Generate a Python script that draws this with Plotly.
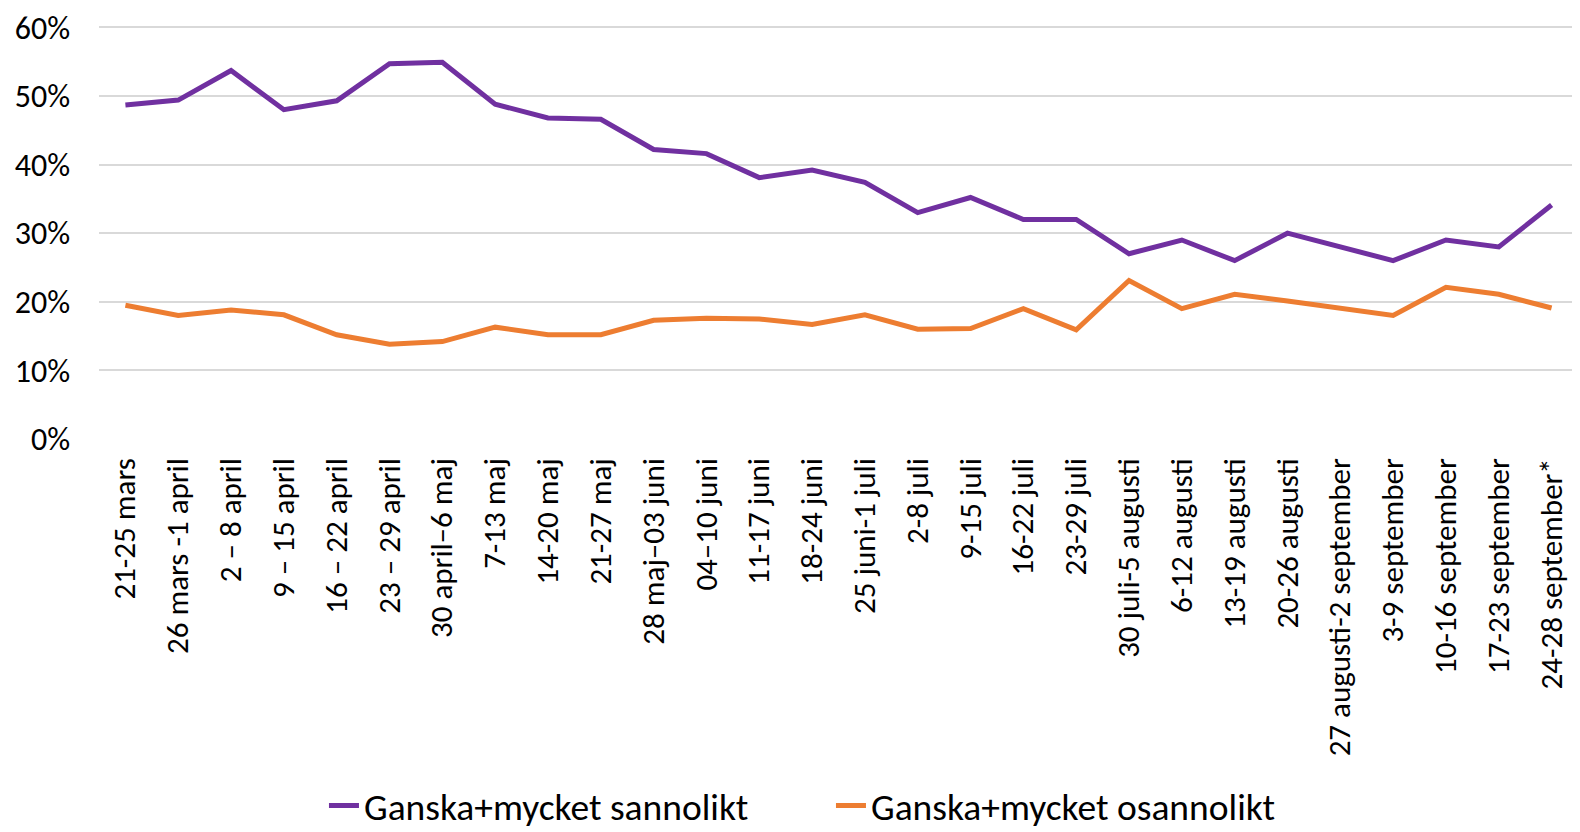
import plotly.graph_objects as go

categories = [
    "21-25 mars", "26 mars -1 april", "2 – 8 april", "9 – 15 april",
    "16 – 22 april", "23 – 29 april", "30 april–6 maj", "7-13 maj",
    "14-20 maj", "21-27 maj", "28 maj–03 juni", "04–10 juni",
    "11-17 juni", "18-24 juni", "25 juni-1 juli", "2-8 juli",
    "9-15 juli", "16-22 juli", "23-29 juli", "30 juli-5 augusti",
    "6-12 augusti", "13-19 augusti", "20-26 augusti", "27 augusti-2 september",
    "3-9 september", "10-16 september", "17-23 september", "24-28 september*",
]

sannolikt = [
    0.487, 0.494, 0.537, 0.480, 0.493, 0.547, 0.549, 0.488,
    0.468, 0.466, 0.422, 0.416, 0.381, 0.392, 0.374, 0.330,
    0.352, 0.320, 0.320, 0.270, 0.290, 0.260, 0.300, 0.280,
    0.260, 0.290, 0.280, 0.341,
]

osannolikt = [
    0.195, 0.180, 0.188, 0.181, 0.152, 0.138, 0.142, 0.163,
    0.152, 0.152, 0.173, 0.176, 0.175, 0.167, 0.181, 0.160,
    0.161, 0.190, 0.159, 0.231, 0.190, 0.211, 0.201, 0.191,
    0.180, 0.221, 0.211, 0.191,
]

y_ticks = [0, 0.1, 0.2, 0.3, 0.4, 0.5, 0.6]

FONT = "Calibri, Carlito, Lato, sans-serif"

fig = go.Figure()
fig.add_trace(go.Scatter(
    x=categories, y=sannolikt, mode="lines", name="Ganska+mycket sannolikt",
    line=dict(color="#7030A0", width=5, shape="linear"),
))
fig.add_trace(go.Scatter(
    x=categories, y=osannolikt, mode="lines", name="Ganska+mycket osannolikt",
    line=dict(color="#ED7D31", width=5, shape="linear"),
))

# page body has an 8px default margin, so the figure is 1572x824
fig.update_layout(
    width=1572, height=824,
    paper_bgcolor="white", plot_bgcolor="white",
    margin=dict(l=91, r=2, t=15.6, b=393, autoexpand=False),
    font=dict(family=FONT, size=30, color="#000000"),
    showlegend=True,
    legend=dict(
        orientation="h", xref="container", x=0.201, xanchor="left",
        yref="container", y=0.032, yanchor="middle",
        font=dict(family=FONT, size=37.5, color="#000000"),
        entrywidth=462, entrywidthmode="pixels", tracegroupgap=0,
        bgcolor="rgba(0,0,0,0)",
    ),
    xaxis=dict(
        type="category", range=[-0.5, 27.5], tickangle=-90,
        showgrid=False, zeroline=False, automargin=False,
        showline=False, ticks="", tickfont=dict(family=FONT, size=31),
        ticklabelstandoff=12,
    ),
    yaxis=dict(
        range=[0, 0.6049], tickvals=y_ticks, tickformat=".0%",
        showgrid=True, gridcolor="#D9D9D9", gridwidth=1.5,
        zeroline=False, showline=False, ticks="", automargin=False,
        tickfont=dict(family=FONT, size=32), ticklabelstandoff=28,
    ),
)

fig.write_html("out.html")
